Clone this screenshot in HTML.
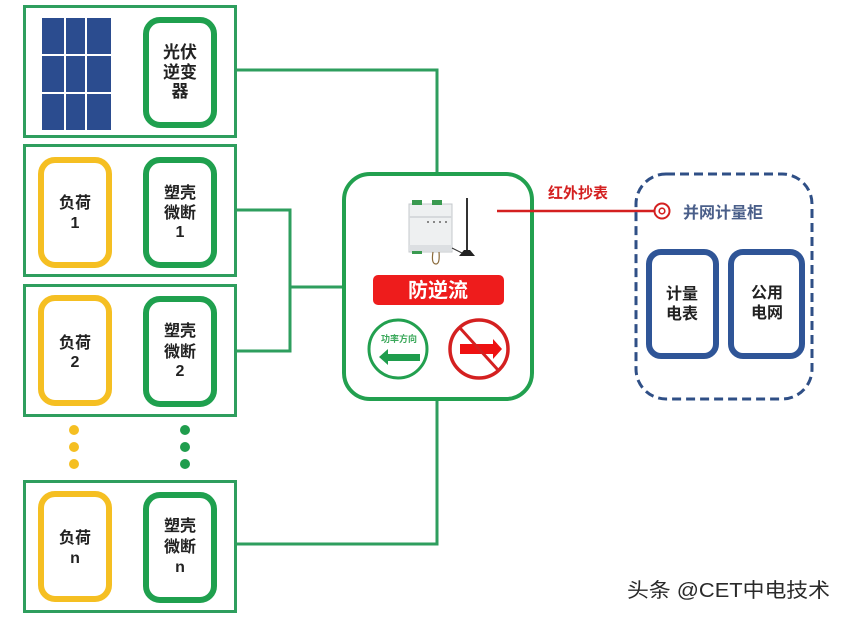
<!DOCTYPE html>
<html><head><meta charset="utf-8"><style>
html,body{margin:0;padding:0;background:#fff;}
svg{display:block;}
text{font-family:"Liberation Sans","Noto Sans CJK SC",sans-serif;}
</style></head><body>
<svg width="848" height="617" viewBox="0 0 848 617" xmlns="http://www.w3.org/2000/svg">
<rect width="848" height="617" fill="#fff"/>
<!-- outer boxes -->
<g fill="none" stroke="#2e9e5e" stroke-width="3">
<rect x="24.5" y="6.5" width="211" height="130"/>
<rect x="24.5" y="145.5" width="211" height="130"/>
<rect x="24.5" y="285.5" width="211" height="130"/>
<rect x="24.5" y="481.5" width="211" height="130"/>
</g>
<!-- wires -->
<g fill="none" stroke="#2e9e5e" stroke-width="3">
<polyline points="236,70 437,70 437,174"/>
<polyline points="236,210 290,210 290,351 236,351"/>
<line x1="290" y1="287" x2="344" y2="287"/>
<polyline points="236,544 437,544 437,399"/>
</g>
<!-- solar panel -->
<g fill="#2b4c8f">
<rect x="42" y="18" width="22" height="36"/><rect x="66" y="18" width="19" height="36"/><rect x="87" y="18" width="24" height="36"/>
<rect x="42" y="56" width="22" height="36"/><rect x="66" y="56" width="19" height="36"/><rect x="87" y="56" width="24" height="36"/>
<rect x="42" y="94" width="22" height="36"/><rect x="66" y="94" width="19" height="36"/><rect x="87" y="94" width="24" height="36"/>
</g>
<!-- inner green boxes -->
<g fill="none" stroke="#1fa04e" stroke-width="6">
<rect x="146" y="20" width="68" height="105" rx="14"/>
<rect x="146" y="160" width="68" height="105" rx="14"/>
<rect x="146" y="299" width="68" height="105" rx="14"/>
<rect x="146" y="495" width="68" height="105" rx="14"/>
</g>
<!-- yellow boxes -->
<g fill="none" stroke="#f5bf22" stroke-width="6">
<rect x="41" y="160" width="68" height="105" rx="14"/>
<rect x="41" y="298" width="68" height="105" rx="14"/>
<rect x="41" y="494" width="68" height="105" rx="14"/>
</g>
<!-- dots -->
<g fill="#f5bf22"><circle cx="74" cy="430" r="5"/><circle cx="74" cy="447" r="5"/><circle cx="74" cy="464" r="5"/></g>
<g fill="#1f9d4d"><circle cx="185" cy="430" r="5"/><circle cx="185" cy="447" r="5"/><circle cx="185" cy="464" r="5"/></g>
<!-- texts left -->
<g font-size="16" font-weight="bold" fill="#222" text-anchor="middle">
<text x="180" y="58" font-size="17">光伏</text><text x="180" y="78" font-size="17">逆变</text><text x="180" y="97" font-size="17">器</text>
<text x="75" y="208">负荷</text><text x="75" y="228">1</text>
<text x="180" y="198">塑壳</text><text x="180" y="218">微断</text><text x="180" y="237">1</text>
<text x="75" y="348">负荷</text><text x="75" y="367">2</text>
<text x="180" y="336">塑壳</text><text x="180" y="357">微断</text><text x="180" y="376">2</text>
<text x="75" y="543">负荷</text><text x="75" y="563">n</text>
<text x="180" y="531">塑壳</text><text x="180" y="552">微断</text><text x="180" y="572">n</text>
</g>
<!-- central box -->
<rect x="344" y="174" width="188" height="225" rx="26" fill="#fff" stroke="#22a04f" stroke-width="4"/>
<!-- device -->
<g>
<rect x="409" y="204" width="43" height="48" fill="#eef0f1" stroke="#c4c8cc" stroke-width="1"/>
<rect x="412" y="200" width="10" height="5" fill="#3a9a50"/>
<rect x="432" y="200" width="10" height="5" fill="#3a9a50"/>
<rect x="409" y="216" width="43" height="2" fill="#d6d9dc"/>
<g fill="#888"><rect x="427" y="221" width="2" height="2"/><rect x="433" y="221" width="2" height="2"/><rect x="439" y="221" width="2" height="2"/><rect x="445" y="221" width="2" height="2"/></g>
<rect x="409" y="245" width="43" height="6" fill="#dcdfe2"/>
<rect x="412" y="251" width="10" height="3" fill="#3a9a50"/>
<path d="M433 252 q-2 12 3 12 q4 0 3 -12" fill="none" stroke="#8a6a3a" stroke-width="1.2"/>
<line x1="467" y1="198" x2="467" y2="252" stroke="#333" stroke-width="2"/>
<path d="M459 256 L475 256 L470 250 L464 250 Z" fill="#222"/>
<line x1="452" y1="248" x2="462" y2="253" stroke="#333" stroke-width="1"/>
</g>
<!-- red banner -->
<rect x="373" y="275" width="131" height="30" rx="5" fill="#ee1c1c"/>
<text x="438" y="297" font-size="20" font-weight="bold" fill="#fff" text-anchor="middle">防逆流</text>
<!-- green circle -->
<circle cx="398" cy="349" r="29" fill="#fff" stroke="#22a04f" stroke-width="3"/>
<text x="399" y="342" font-size="9" font-weight="bold" fill="#3aa85a" text-anchor="middle">功率方向</text>
<path d="M379 357 L388 349 L388 354 L420 354 L420 361 L388 361 L388 365 Z" fill="#1f9d4d"/>
<!-- red circle -->
<circle cx="479" cy="349" r="29" fill="#fff" stroke="#d42020" stroke-width="3.5"/>
<path d="M460 344 L493 344 L493 339 L502 349 L493 359 L493 354 L460 354 Z" fill="#ee1111"/>
<line x1="460" y1="328" x2="498" y2="370" stroke="#d42020" stroke-width="3"/>
<!-- red line -->
<line x1="497" y1="211" x2="654" y2="211" stroke="#d42020" stroke-width="2.5"/>
<text x="578" y="198" font-size="15" font-weight="bold" fill="#d42020" text-anchor="middle">红外抄表</text>
<!-- dashed box -->
<rect x="636" y="174" width="176" height="225" rx="30" fill="none" stroke="#2f4f86" stroke-width="3" stroke-dasharray="9 5"/>
<circle cx="662" cy="211" r="7.5" fill="#fff" stroke="#d42020" stroke-width="2"/>
<circle cx="662" cy="211" r="2.8" fill="none" stroke="#d42020" stroke-width="1.6"/>
<text x="683" y="218" font-size="16" font-weight="bold" fill="#4a5f8a">并网计量柜</text>
<!-- blue boxes -->
<g fill="none" stroke="#2f5597" stroke-width="6">
<rect x="649" y="252" width="67" height="104" rx="12"/>
<rect x="731" y="252" width="71" height="104" rx="12"/>
</g>
<g font-size="16" font-weight="bold" fill="#222" text-anchor="middle">
<text x="682" y="299">计量</text><text x="682" y="319">电表</text>
<text x="767" y="298">公用</text><text x="767" y="318">电网</text>
</g>
<!-- watermark -->
<text x="627" y="597" font-size="20" fill="#2a2a2a" textLength="203" lengthAdjust="spacingAndGlyphs">头条 @CET中电技术</text>
</svg>
</body></html>
